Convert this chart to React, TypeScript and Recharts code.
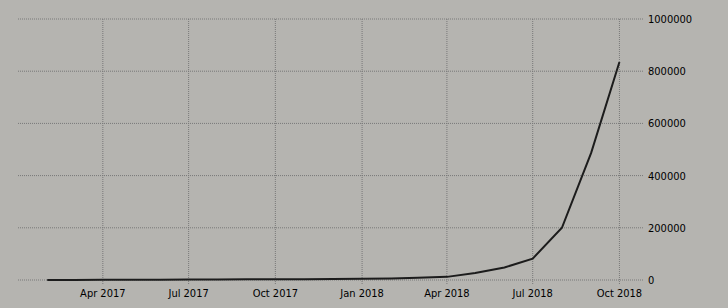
import React from 'react';
import { LineChart, Line, XAxis, YAxis, CartesianGrid, ReferenceLine } from 'recharts';

const months: string[] = [
  '2017-02-01', '2017-03-01', '2017-04-01', '2017-05-01', '2017-06-01', '2017-07-01',
  '2017-08-01', '2017-09-01', '2017-10-01', '2017-11-01', '2017-12-01', '2018-01-01',
  '2018-02-01', '2018-03-01', '2018-04-01', '2018-05-01', '2018-06-01', '2018-07-01',
  '2018-08-01', '2018-09-01', '2018-10-01',
];
const values: number[] = [
  200, 400, 700, 1000, 1300, 1600, 2000, 2400, 2800, 3200, 3700, 4500,
  6000, 8500, 12000, 27000, 48000, 82000, 200000, 487000, 835000,
];
const tickDates: string[] = ['2017-04-01', '2017-07-01', '2017-10-01', '2018-01-01', '2018-04-01', '2018-07-01', '2018-10-01'];
const tickLabels: string[] = ['Apr 2017', 'Jul 2017', 'Oct 2017', 'Jan 2018', 'Apr 2018', 'Jul 2018', 'Oct 2018'];
const yTicks: number[] = [0, 200000, 400000, 600000, 800000, 1000000];
const xDomainDates: string[] = ['2017-01-01', '2018-10-26'];

const ts = (s: string) => Date.parse(s + 'T00:00:00Z');
const data = months.map((m, i) => ({ t: ts(m), v: values[i] }));
const xTicks = tickDates.map(ts);
const labelOf = (t: number) => {
  const i = xTicks.indexOf(t);
  return i >= 0 ? tickLabels[i] : '';
};

const gridColor = '#787878';
const font = { fontFamily: '"DejaVu Sans Condensed", "DejaVu Sans"', fontSize: 11, fill: '#000' };

export default function App() {
  return (
    <div style={{ position: 'absolute', left: 0, top: 0, width: 728, height: 308, background: '#b5b4b0' }}>
      <LineChart width={728} height={308} data={data} margin={{ top: 19, right: 0, left: 18, bottom: 0 }}>
        <CartesianGrid stroke={gridColor} strokeDasharray="1 1" vertical={false} />
        {xTicks.map((t) => (
          <ReferenceLine key={t} x={t} stroke={gridColor} strokeDasharray="1 1" />
        ))}
        <XAxis
          dataKey="t"
          type="number"
          domain={xDomainDates.map(ts)}
          ticks={xTicks}
          tickFormatter={labelOf}
          axisLine={false}
          tickLine={{ stroke: gridColor, strokeDasharray: '1 1' }}
          tickSize={4}
          tickMargin={5}
          height={28}
          tick={font}
          allowDataOverflow
        />
        <YAxis
          orientation="right"
          domain={[0, 1000000]}
          ticks={yTicks}
          axisLine={false}
          tickLine={false}
          tickSize={3}
          tickMargin={2}
          width={85}
          tick={{ ...font, textAnchor: 'start' }}
        />
        <Line type="linear" dataKey="v" stroke="#1c1c1c" strokeWidth={2} dot={false} isAnimationActive={false} />
      </LineChart>
    </div>
  );
}
